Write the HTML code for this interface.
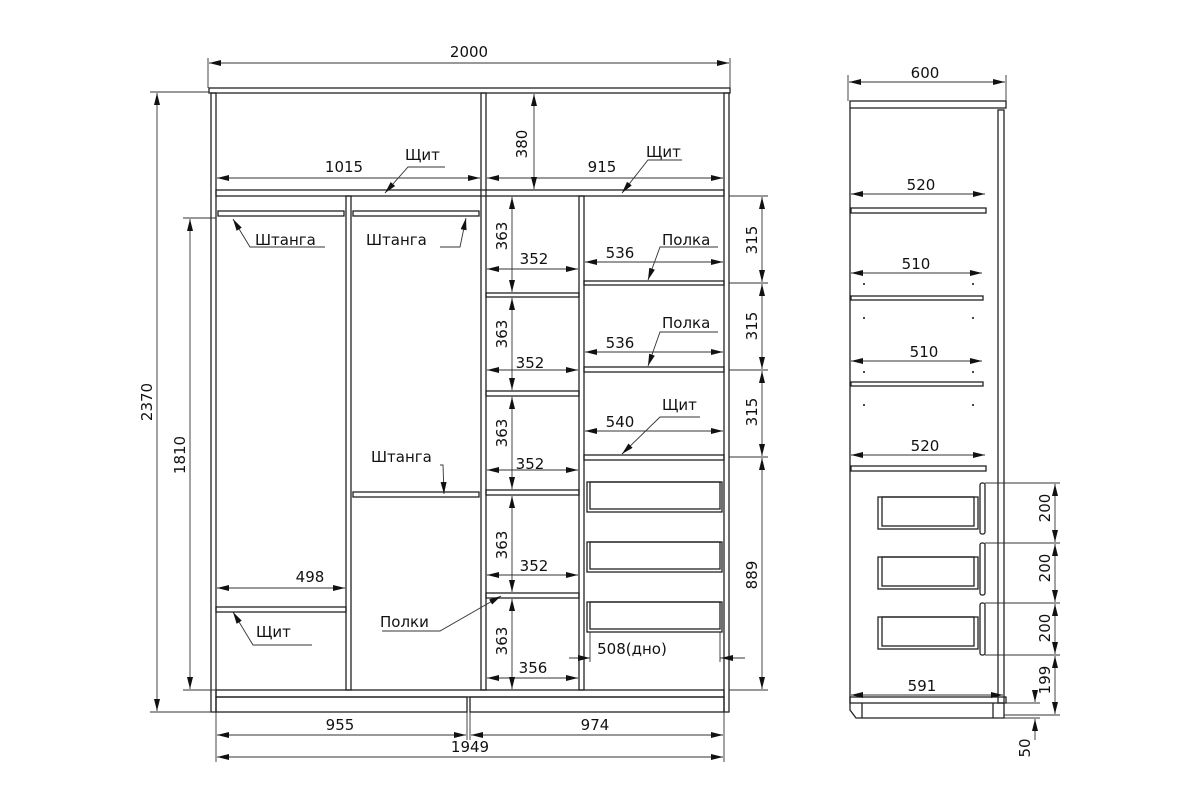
<!DOCTYPE html>
<html><head><meta charset="utf-8"><style>
html,body{margin:0;padding:0;background:#fff}
svg{display:block}
text{font-family:"DejaVu Sans","Liberation Sans",sans-serif;font-size:15px;fill:#111}
</style></head><body>
<svg width="1200" height="809" viewBox="0 0 1200 809" xmlns="http://www.w3.org/2000/svg">
<defs>
<marker id="a" viewBox="0 0 12 6" refX="12" refY="3" markerWidth="12" markerHeight="6" orient="auto-start-reverse" markerUnits="userSpaceOnUse"><path d="M0,0L12,3L0,6z" fill="#111"/></marker>
</defs>
<g fill="none" stroke="#222" stroke-width="1.3">
<!-- FRONT -->
<rect x="209" y="88" width="521" height="5"/>
<rect x="211" y="93" width="5" height="619"/>
<rect x="724" y="93" width="5" height="619"/>
<rect x="481" y="93" width="5" height="597"/>
<rect x="216" y="190" width="508" height="6"/>
<rect x="346" y="196" width="5" height="494"/>
<rect x="579" y="196" width="5" height="494"/>
<!-- rods -->
<rect x="218" y="211" width="126" height="5"/>
<rect x="353" y="211" width="126" height="5"/>
<rect x="353" y="492" width="126" height="5"/>
<!-- left shelf -->
<rect x="216" y="607" width="130" height="5"/>
<!-- left subcol shelves -->
<rect x="486" y="293" width="93" height="4"/>
<rect x="486" y="391" width="93" height="5"/>
<rect x="486" y="490" width="93" height="5"/>
<rect x="486" y="593" width="93" height="5"/>
<!-- right subcol shelves -->
<rect x="584" y="281" width="140" height="4"/>
<rect x="584" y="367" width="140" height="5"/>
<rect x="584" y="455" width="140" height="5"/>
<!-- drawers -->
<rect x="587" y="482" width="135" height="30"/><rect x="590" y="482" width="130" height="27"/>
<rect x="587" y="542" width="135" height="30"/><rect x="590" y="542" width="130" height="27"/>
<rect x="587" y="602" width="135" height="30"/><rect x="590" y="602" width="130" height="27"/>
<!-- bottom -->
<rect x="216" y="690" width="508" height="7"/>
<rect x="216" y="697" width="251" height="15"/>
<rect x="470" y="697" width="254" height="15"/>
<!-- SIDE -->
<rect x="850" y="101" width="156" height="7"/>
<line x1="850" y1="108" x2="850" y2="703"/>
<rect x="998" y="110" width="6" height="593"/>
<rect x="851" y="208" width="135" height="5"/>
<rect x="851" y="296" width="132" height="4"/>
<rect x="851" y="382" width="132" height="4"/>
<rect x="851" y="466" width="135" height="5"/>
<rect x="980" y="483" width="5" height="51" rx="2"/>
<rect x="980" y="543" width="5" height="52" rx="2"/>
<rect x="980" y="603" width="5" height="52" rx="2"/>
<rect x="878" y="497" width="100" height="32"/><rect x="882" y="497" width="92" height="29"/>
<rect x="878" y="557" width="100" height="32"/><rect x="882" y="557" width="92" height="29"/>
<rect x="878" y="617" width="100" height="32"/><rect x="882" y="617" width="92" height="29"/>
<rect x="850" y="697" width="156" height="6"/>
<path d="M850,703 L850,710 L856,718 L1004,718 L1004,703"/>
<line x1="862" y1="703" x2="862" y2="718"/><line x1="993" y1="703" x2="993" y2="718"/>
</g>
<g fill="#111">
<circle cx="864" cy="284" r="1"/><circle cx="973" cy="284" r="1"/><circle cx="864" cy="318" r="1"/><circle cx="973" cy="318" r="1"/>
<circle cx="864" cy="372" r="1"/><circle cx="973" cy="372" r="1"/><circle cx="864" cy="405" r="1"/><circle cx="973" cy="405" r="1"/>
</g>
<!-- dimensions -->
<g stroke="#333" stroke-width="0.9" fill="none">
<!-- extension lines -->
<line x1="208" y1="58" x2="208" y2="88"/><line x1="730" y1="58" x2="730" y2="88"/>
<line x1="150" y1="92" x2="209" y2="92"/><line x1="150" y1="712" x2="211" y2="712"/>
<line x1="183" y1="218" x2="216" y2="218"/><line x1="183" y1="690" x2="216" y2="690"/>
<line x1="216" y1="712" x2="216" y2="762"/><line x1="724" y1="712" x2="724" y2="762"/><line x1="467" y1="712" x2="467" y2="740"/><line x1="470" y1="712" x2="470" y2="740"/>
<line x1="729" y1="196" x2="768" y2="196"/><line x1="729" y1="283" x2="768" y2="283"/><line x1="729" y1="370" x2="768" y2="370"/><line x1="729" y1="457" x2="768" y2="457"/><line x1="729" y1="690" x2="768" y2="690"/>
<line x1="848" y1="75" x2="848" y2="101"/><line x1="1006" y1="75" x2="1006" y2="101"/>
<line x1="985" y1="483" x2="1060" y2="483"/><line x1="985" y1="543" x2="1060" y2="543"/><line x1="985" y1="603" x2="1060" y2="603"/><line x1="985" y1="655" x2="1060" y2="655"/><line x1="1004" y1="715" x2="1060" y2="715"/>
<line x1="1004" y1="703" x2="1040" y2="703"/><line x1="1004" y1="718" x2="1040" y2="718"/>
<line x1="569" y1="658" x2="590" y2="658"/><line x1="590" y1="632" x2="590" y2="662"/><line x1="720" y1="632" x2="720" y2="662"/><line x1="720" y1="658" x2="745" y2="658"/>
<g marker-start="url(#a)" marker-end="url(#a)">
<line x1="209" y1="63" x2="729" y2="63"/>
<line x1="157" y1="93" x2="157" y2="711"/>
<line x1="190" y1="219" x2="190" y2="689"/>
<line x1="217" y1="735" x2="466" y2="735"/>
<line x1="471" y1="735" x2="723" y2="735"/>
<line x1="217" y1="757" x2="723" y2="757"/>
<line x1="217" y1="178" x2="480" y2="178"/>
<line x1="487" y1="178" x2="723" y2="178"/>
<line x1="534" y1="94" x2="534" y2="189"/>
<line x1="217" y1="588" x2="345" y2="588"/>
<line x1="487" y1="269" x2="578" y2="269"/><line x1="487" y1="370" x2="578" y2="370"/><line x1="487" y1="470" x2="578" y2="470"/><line x1="487" y1="575" x2="578" y2="575"/><line x1="487" y1="678" x2="578" y2="678"/>
<line x1="512" y1="197" x2="512" y2="292"/><line x1="512" y1="298" x2="512" y2="390"/><line x1="512" y1="397" x2="512" y2="489"/><line x1="512" y1="496" x2="512" y2="592"/><line x1="512" y1="599" x2="512" y2="689"/>
<line x1="585" y1="262" x2="723" y2="262"/><line x1="585" y1="352" x2="723" y2="352"/><line x1="585" y1="431" x2="723" y2="431"/>
<line x1="762" y1="197" x2="762" y2="282"/><line x1="762" y1="284" x2="762" y2="369"/><line x1="762" y1="371" x2="762" y2="456"/><line x1="762" y1="458" x2="762" y2="689"/>
<line x1="849" y1="82" x2="1005" y2="82"/>
<line x1="851" y1="194" x2="985" y2="194"/><line x1="851" y1="273" x2="982" y2="273"/><line x1="851" y1="361" x2="982" y2="361"/><line x1="851" y1="455" x2="985" y2="455"/>
<line x1="851" y1="695" x2="1003" y2="695"/>
<line x1="1055" y1="484" x2="1055" y2="542"/><line x1="1055" y1="544" x2="1055" y2="602"/><line x1="1055" y1="604" x2="1055" y2="654"/><line x1="1055" y1="656" x2="1055" y2="714"/>
</g>
<line x1="578" y1="658" x2="590" y2="658" marker-end="url(#a)"/><line x1="735" y1="658" x2="721" y2="658" marker-end="url(#a)"/>
<line x1="1035" y1="690" x2="1035" y2="702" marker-end="url(#a)"/><line x1="1035" y1="740" x2="1035" y2="719" marker-end="url(#a)"/>
<!-- leaders -->
<g marker-end="url(#a)">
<polyline points="445,167 408,167 385,193"/><polyline points="682,160 648,160 622,193"/>
<polyline points="325,247 250,247 233,219"/><polyline points="440,247 460,247 466,218"/>
<polyline points="440,465 443,465 444,494"/><polyline points="312,645 253,645 233,612"/>
<polyline points="382,631 440,631 501,596"/>
<polyline points="718,247 660,247 648,280"/><polyline points="718,332 660,332 648,366"/><polyline points="700,417 660,417 622,454"/>
</g>
</g>
<g>
<text x="469" y="57" text-anchor="middle">2000</text>
<text x="925" y="78" text-anchor="middle">600</text>
<text x="344" y="172" text-anchor="middle">1015</text>
<text x="602" y="172" text-anchor="middle">915</text>
<text x="405" y="160">Щит</text><text x="646" y="157">Щит</text>
<text x="255" y="245">Штанга</text><text x="366" y="245">Штанга</text><text x="371" y="462">Штанга</text>
<text x="310" y="582" text-anchor="middle">498</text>
<text x="256" y="637">Щит</text><text x="380" y="627">Полки</text>
<text x="534" y="264" text-anchor="middle">352</text><text x="530" y="368" text-anchor="middle">352</text><text x="530" y="469" text-anchor="middle">352</text><text x="534" y="571" text-anchor="middle">352</text><text x="533" y="673" text-anchor="middle">356</text>
<text x="620" y="258" text-anchor="middle">536</text><text x="620" y="348" text-anchor="middle">536</text><text x="620" y="427" text-anchor="middle">540</text>
<text x="662" y="245">Полка</text><text x="662" y="328">Полка</text><text x="662" y="410">Щит</text>
<text x="632" y="654" text-anchor="middle">508(дно)</text>
<text x="340" y="730" text-anchor="middle">955</text><text x="595" y="730" text-anchor="middle">974</text><text x="470" y="752" text-anchor="middle">1949</text>
<text x="921" y="190" text-anchor="middle">520</text><text x="916" y="269" text-anchor="middle">510</text><text x="924" y="357" text-anchor="middle">510</text><text x="925" y="451" text-anchor="middle">520</text><text x="922" y="691" text-anchor="middle">591</text>
<g>
<text transform="translate(152,402) rotate(-90)" text-anchor="middle">2370</text>
<text transform="translate(185,455) rotate(-90)" text-anchor="middle">1810</text>
<text transform="translate(527,144) rotate(-90)" text-anchor="middle">380</text>
<text transform="translate(507,236) rotate(-90)" text-anchor="middle">363</text>
<text transform="translate(507,334) rotate(-90)" text-anchor="middle">363</text>
<text transform="translate(507,433) rotate(-90)" text-anchor="middle">363</text>
<text transform="translate(507,545) rotate(-90)" text-anchor="middle">363</text>
<text transform="translate(507,641) rotate(-90)" text-anchor="middle">363</text>
<text transform="translate(757,240) rotate(-90)" text-anchor="middle">315</text>
<text transform="translate(757,326) rotate(-90)" text-anchor="middle">315</text>
<text transform="translate(757,412) rotate(-90)" text-anchor="middle">315</text>
<text transform="translate(757,575) rotate(-90)" text-anchor="middle">889</text>
<text transform="translate(1050,508) rotate(-90)" text-anchor="middle">200</text>
<text transform="translate(1050,568) rotate(-90)" text-anchor="middle">200</text>
<text transform="translate(1050,628) rotate(-90)" text-anchor="middle">200</text>
<text transform="translate(1050,680) rotate(-90)" text-anchor="middle">199</text>
<text transform="translate(1030,748) rotate(-90)" text-anchor="middle">50</text>
</g>
</g>
</svg>
</body></html>
